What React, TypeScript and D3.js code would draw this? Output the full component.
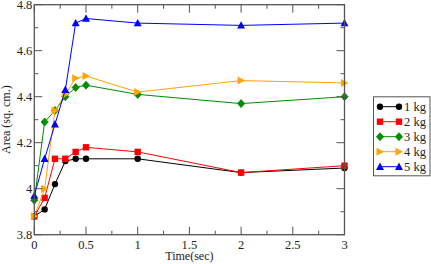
import * as d3 from "d3";

const times = [0, 0.1, 0.2, 0.3, 0.4, 0.5, 1, 2, 3];
const kg1 = [3.88, 3.91, 4.02, 4.12, 4.13, 4.13, 4.13, 4.07, 4.09];
const kg2 = [3.88, 3.96, 4.13, 4.13, 4.16, 4.18, 4.16, 4.07, 4.1];
const kg3 = [3.95, 4.29, 4.34, 4.4, 4.44, 4.45, 4.41, 4.37, 4.4];
const kg4 = [3.88, 4.0, 4.34, 4.41, 4.48, 4.49, 4.42, 4.47, 4.46];
const kg5 = [3.97, 4.13, 4.28, 4.43, 4.72, 4.74, 4.72, 4.71, 4.72];
const seriesNames = ["1 kg", "2 kg", "3 kg", "4 kg", "5 kg"];
const xTickLabels = ["0", "0.5", "1", "1.5", "2", "2.5", "3"];
const yTickLabels = ["3.8", "4", "4.2", "4.4", "4.6", "4.8"];

const colors = ["#000000", "#ff0000", "#008c00", "#ffa500", "#0000ff"];
const shapes = ["circle", "square", "diamond", "right", "up"];

const W = 431;
const H = 264;
const left = 34.3;
const right = 344.5;
const top = 4.7;
const bottom = 234.7;

const Marker = ({ shape, x, y, color }: { shape: string; x: number; y: number; color: string }) => {
  if (shape === "circle") return <circle cx={x} cy={y} r={3.2} fill={color} />;
  if (shape === "square") return <rect x={x - 3.2} y={y - 3.2} width={6.4} height={6.4} fill={color} />;
  if (shape === "diamond")
    return <path d={`M${x},${y - 4}L${x + 3.6},${y}L${x},${y + 4}L${x - 3.6},${y}Z`} fill={color} stroke={color} strokeWidth={0.8} strokeLinejoin="round" />;
  if (shape === "right")
    return <path d={`M${x - 3.5},${y - 4}L${x + 4},${y}L${x - 3.5},${y + 4}Z`} fill={color} />;
  return <path d={`M${x},${y - 4.2}L${x + 4},${y + 3.2}L${x - 4},${y + 3.2}Z`} fill={color} />;
};

export default function App() {
  const x = d3.scaleLinear().domain([0, 3]).range([left, right]);
  const y = d3.scaleLinear().domain([3.8, 4.8]).range([bottom, top]);
  const data = [kg1, kg2, kg3, kg4, kg5];
  const line = d3
    .line<number>()
    .x((_, i) => x(times[i]))
    .y((d) => y(d));

  const xMajor = d3.range(0, 3.001, 0.5);
  const xMinor = d3.range(0.25, 3, 0.5);
  const yMajor = d3.range(3.8, 4.801, 0.2);
  const yMinor = d3.range(3.9, 4.8, 0.2);
  const axisColor = "#555";
  const font = "'Liberation Serif', 'DejaVu Serif', serif";

  return (
    <svg width={W} height={H} style={{ position: "absolute", left: 0, top: 0 }} fontFamily={font}>
      <rect width={W} height={H} fill="white" />
      {data.map((vals, si) => (
        <g key={si}>
          <path d={line(vals) ?? ""} fill="none" stroke={colors[si]} strokeWidth={1} />
          {vals.map((v, i) => (
            <Marker key={i} shape={shapes[si]} x={x(times[i])} y={y(v)} color={colors[si]} />
          ))}
        </g>
      ))}
      {/* frame and ticks */}
      <rect x={left} y={top} width={right - left} height={bottom - top} fill="none" stroke={axisColor} strokeWidth={1.3} />
      {xMajor.map((t) => (
        <g key={"xM" + t}>
          <line x1={x(t)} x2={x(t)} y1={bottom} y2={bottom - 8} stroke={axisColor} />
          <line x1={x(t)} x2={x(t)} y1={top} y2={top + 8} stroke={axisColor} />
        </g>
      ))}
      {xMinor.map((t) => (
        <g key={"xm" + t}>
          <line x1={x(t)} x2={x(t)} y1={bottom} y2={bottom - 4} stroke={axisColor} />
          <line x1={x(t)} x2={x(t)} y1={top} y2={top + 4} stroke={axisColor} />
        </g>
      ))}
      {yMajor.map((t) => (
        <g key={"yM" + t}>
          <line x1={left} x2={left + 8} y1={y(t)} y2={y(t)} stroke={axisColor} />
          <line x1={right} x2={right - 8} y1={y(t)} y2={y(t)} stroke={axisColor} />
        </g>
      ))}
      {yMinor.map((t) => (
        <g key={"ym" + t}>
          <line x1={left} x2={left + 4} y1={y(t)} y2={y(t)} stroke={axisColor} />
          <line x1={right} x2={right - 4} y1={y(t)} y2={y(t)} stroke={axisColor} />
        </g>
      ))}
      {xMajor.map((t, i) => (
        <text key={"xl" + t} x={x(t)} y={bottom + 14} textAnchor="middle" fontSize={12.5} fill="#222">
          {xTickLabels[i]}
        </text>
      ))}
      {yMajor.map((t, i) => (
        <text key={"yl" + t} x={left - 2} y={y(t) + 4.5} textAnchor="end" fontSize={12.5} fill="#222">
          {yTickLabels[i]}
        </text>
      ))}
      <text x={(left + right) / 2} y={260} textAnchor="middle" fontSize={12} fill="#222">
        Time(sec)
      </text>
      <text transform={`translate(10,${(top + bottom) / 2}) rotate(-90)`} textAnchor="middle" fontSize={12} fill="#222">
        Area (sq. cm.)
      </text>
      {/* legend */}
      <rect x={373.5} y={96.8} width={56.5} height={79} fill="white" stroke={axisColor} strokeWidth={1} />
      {seriesNames.map((name, i) => {
        const ly = 106.7 + i * 15;
        return (
          <g key={name}>
            <line x1={380} x2={399} y1={ly} y2={ly} stroke={colors[i]} strokeWidth={1} />
            <Marker shape={shapes[i]} x={380} y={ly} color={colors[i]} />
            <Marker shape={shapes[i]} x={399} y={ly} color={colors[i]} />
            <text x={404} y={ly + 4.5} fontSize={12.5} fill="#222">
              {name}
            </text>
          </g>
        );
      })}
    </svg>
  );
}
